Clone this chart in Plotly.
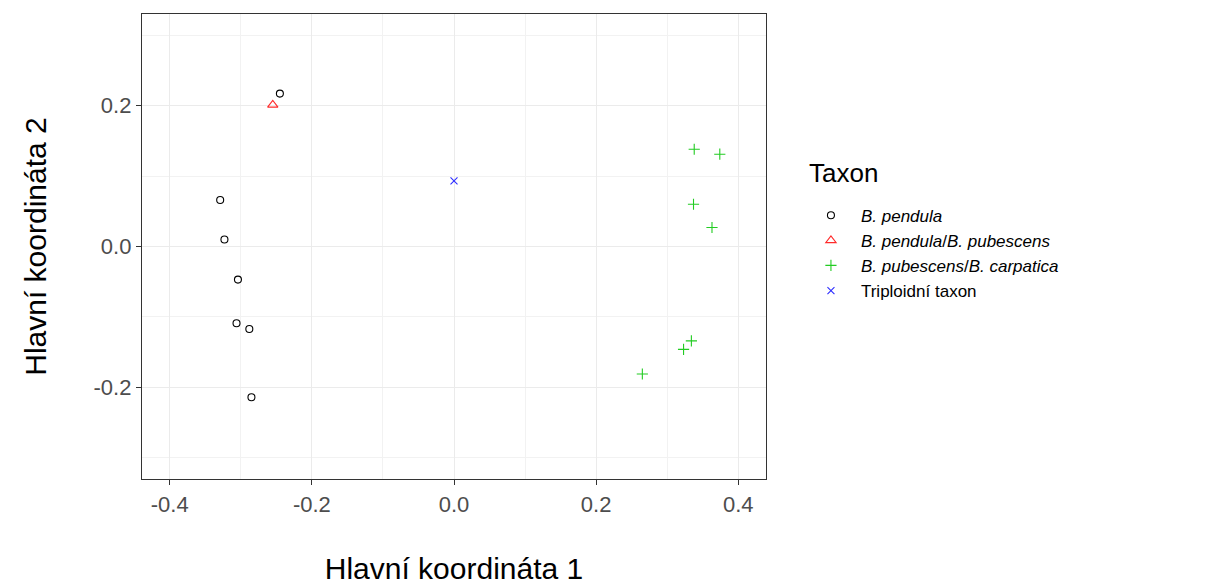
import plotly.graph_objects as go

# Data
pendula_x = [-0.245, -0.329, -0.323, -0.304, -0.306, -0.288, -0.285]
pendula_y = [0.217, 0.066, 0.010, -0.047, -0.109, -0.117, -0.214]
hybrid_x = [-0.255]
hybrid_y = [0.201]
pubescens_x = [0.338, 0.374, 0.337, 0.363, 0.334, 0.323, 0.265]
pubescens_y = [0.138, 0.131, 0.060, 0.027, -0.134, -0.146, -0.181]
triploid_x = [0.0]
triploid_y = [0.093]

x_ticks = [-0.4, -0.2, 0.0, 0.2, 0.4]
y_ticks = [-0.2, 0.0, 0.2]

series = [
    ("<i>B. pendula</i>", pendula_x, pendula_y, "circle-open", "#000000", 7),
    ("<i>B. pendula</i>/<i>B. pubescens</i>", hybrid_x, hybrid_y, "triangle-up-open", "#FF2A2A", 9),
    ("<i>B. pubescens</i>/<i>B. carpatica</i>", pubescens_x, pubescens_y, "cross-thin-open", "#22CC22", 8),
    ("Triploidní taxon", triploid_x, triploid_y, "x-thin-open", "#2E2EFF", 7),
]

fig = go.Figure()
for name, xs, ys, sym, col, size in series:
    fig.add_trace(go.Scatter(
        x=xs, y=ys, mode="markers", name=name,
        marker=dict(symbol=sym, size=size, color=col, line=dict(color=col, width=1.1)),
    ))

FONT = "Liberation Sans, Arial, sans-serif"
axis_common = dict(
    showgrid=True, gridcolor="#EBEBEB", gridwidth=1.3,
    zeroline=False, showline=True, linecolor="#333333", linewidth=1.3, mirror=True,
    ticks="outside", ticklen=5, tickcolor="#333333", tickwidth=1.3,
    tickfont=dict(family=FONT, size=22, color="#4D4D4D"),
    minor=dict(showgrid=True, gridcolor="#F2F2F2", gridwidth=0.8, dtick=0.1, ticks=""),
)

fig.update_layout(
    width=1210, height=585,
    paper_bgcolor="white", plot_bgcolor="white",
    margin=dict(l=134, r=452, t=6, b=114),
    font=dict(family=FONT, color="#000000"),
    xaxis=dict(range=[-0.439, 0.439], tickvals=x_ticks, ticktext=["-0.4", "-0.2", "0.0", "0.2", "0.4"],
               title=dict(text="Hlavní koordináta 1", font=dict(size=30), standoff=42), **axis_common),
    yaxis=dict(range=[-0.33, 0.33], tickvals=y_ticks, ticktext=["-0.2", "0.0", "0.2"],
               title=dict(text="Hlavní koordináta 2", font=dict(size=30), standoff=38), **axis_common),
    legend=dict(
        font=dict(size=17),
        x=1.056, y=0.605, xanchor="left", yanchor="top",
        tracegroupgap=0, itemsizing="trace", itemwidth=50,
    ),
    annotations=[dict(
        text="Taxon", xref="paper", yref="paper", x=1.066, y=0.659,
        xanchor="left", yanchor="middle", showarrow=False,
        font=dict(family=FONT, size=26, color="#000000"),
    )],
)

fig.write_html("out.html")
